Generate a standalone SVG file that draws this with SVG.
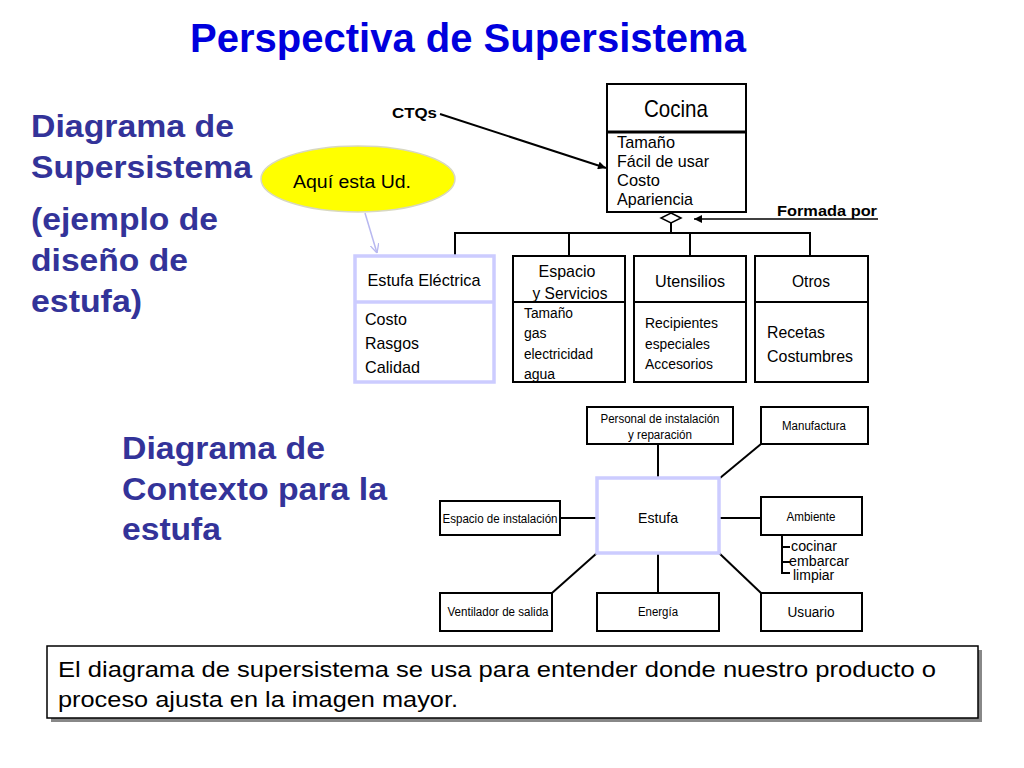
<svg xmlns="http://www.w3.org/2000/svg" width="1024" height="768" viewBox="0 0 1024 768">
<style>
.h{font-family:"Liberation Sans",Arial,sans-serif;font-weight:bold;fill:#333399;font-size:32px}
.n{font-family:"Liberation Sans",Arial,sans-serif;fill:#000}
.b{font-family:"Liberation Sans",Arial,sans-serif;font-weight:bold;fill:#000}
.box{fill:#fff;stroke:#000;stroke-width:2}
.lbox{fill:#fff;stroke:#ccccff;stroke-width:3.5}
.ln{stroke:#000;stroke-width:2;fill:none}
.c{text-anchor:middle}
</style>
<defs>
<marker id="ah" viewBox="0 0 10 10" refX="10" refY="5" markerWidth="9" markerHeight="8" orient="auto" markerUnits="userSpaceOnUse">
<path d="M0,0 L10,5 L0,10 z" fill="#000"/>
</marker>
<marker id="ahl" viewBox="0 0 10 10" refX="10" refY="5" markerWidth="9" markerHeight="9" orient="auto" markerUnits="userSpaceOnUse">
<path d="M0,0 L10,5 L0,10" fill="none" stroke="#b8b8f0" stroke-width="1.5"/>
</marker>
</defs>
<rect width="1024" height="768" fill="#fff"/>

<text x="468" y="52" text-anchor="middle" font-family="Liberation Sans,Arial,sans-serif" font-weight="bold" font-size="40" fill="#0000dd">Perspectiva de Supersistema</text>

<g id="headings">
<text class="h" x="31" y="137" textLength="203" lengthAdjust="spacingAndGlyphs">Diagrama de</text>
<text class="h" x="31" y="178" textLength="221" lengthAdjust="spacingAndGlyphs">Supersistema</text>
<text class="h" x="31" y="230" textLength="187" lengthAdjust="spacingAndGlyphs">(ejemplo de</text>
<text class="h" x="31" y="271" textLength="157" lengthAdjust="spacingAndGlyphs">diseño de</text>
<text class="h" x="31" y="312" textLength="111" lengthAdjust="spacingAndGlyphs">estufa)</text>
<text class="h" x="122" y="459" textLength="203" lengthAdjust="spacingAndGlyphs">Diagrama de</text>
<text class="h" x="122" y="500" textLength="265" lengthAdjust="spacingAndGlyphs">Contexto para la</text>
<text class="h" x="122" y="540" textLength="99" lengthAdjust="spacingAndGlyphs">estufa</text>
</g>

<g id="connectors">
<line class="ln" x1="440" y1="114" x2="606" y2="168" stroke-width="1.8" marker-end="url(#ah)"/>
<line x1="878" y1="219" x2="694" y2="219" stroke="#000" stroke-width="1.5" marker-end="url(#ah)"/>
<line x1="365" y1="213" x2="377" y2="253" stroke="#b8b8f0" stroke-width="1.5" marker-end="url(#ahl)"/>
<polyline class="ln" points="671,223 671,233"/>
<polyline class="ln" points="455,256 455,233 810,233 810,256"/>
<line class="ln" x1="569" y1="233" x2="569" y2="256"/>
<line class="ln" x1="690" y1="233" x2="690" y2="256"/>
<line class="ln" x1="658" y1="444" x2="658" y2="478"/>
<line class="ln" x1="761" y1="444" x2="720" y2="478"/>
<line class="ln" x1="560" y1="518" x2="597" y2="518"/>
<line class="ln" x1="719" y1="518" x2="761" y2="518"/>
<line class="ln" x1="552" y1="593" x2="597" y2="553"/>
<line class="ln" x1="658" y1="553" x2="658" y2="593"/>
<line class="ln" x1="719" y1="553" x2="761" y2="593"/>
<polyline class="ln" points="782,535 782,573 790,573" stroke-width="1.5"/>
<line class="ln" x1="782" y1="547" x2="790" y2="547" stroke-width="1.5"/>
<line class="ln" x1="782" y1="562" x2="790" y2="562" stroke-width="1.5"/>
</g>

<g id="ctqs"><text class="b" x="392" y="118" font-size="15" textLength="45" lengthAdjust="spacingAndGlyphs">CTQs</text></g>
<g id="formada"><text class="b" x="777" y="216" font-size="15" textLength="100" lengthAdjust="spacingAndGlyphs">Formada por</text></g>

<g id="cocina">
<rect class="box" x="607" y="84" width="139" height="128"/>
<line x1="607" y1="132" x2="746" y2="132" stroke="#000" stroke-width="3"/>
<text class="n c" x="676" y="117" font-size="24" textLength="64" lengthAdjust="spacingAndGlyphs">Cocina</text>
<text class="n" x="617" y="148" font-size="17" textLength="58" lengthAdjust="spacingAndGlyphs">Tamaño</text>
<text class="n" x="617" y="167" font-size="17" textLength="92" lengthAdjust="spacingAndGlyphs">Fácil de usar</text>
<text class="n" x="617" y="186" font-size="17" textLength="43" lengthAdjust="spacingAndGlyphs">Costo</text>
<text class="n" x="617" y="205" font-size="17" textLength="76" lengthAdjust="spacingAndGlyphs">Apariencia</text>
<path d="M671,213 L681,218 L671,223 L661,218 z" fill="#fff" stroke="#000" stroke-width="1.5"/>
</g>

<g id="aqui">
<ellipse cx="358" cy="179" rx="97" ry="33" fill="#ffff00" stroke="#d8d8c0" stroke-width="1.5"/>
<text class="n" x="293" y="188" font-size="18" textLength="118" lengthAdjust="spacingAndGlyphs">Aquí esta Ud.</text>
</g>

<g id="estufa-electrica">
<rect class="lbox" x="355" y="256" width="139" height="126"/>
<line x1="355" y1="302" x2="494" y2="302" stroke="#ccccff" stroke-width="3.5"/>
<text class="n c" x="424" y="286" font-size="17" textLength="113" lengthAdjust="spacingAndGlyphs">Estufa Eléctrica</text>
<text class="n" x="365" y="325" font-size="17" textLength="42" lengthAdjust="spacingAndGlyphs">Costo</text>
<text class="n" x="365" y="349" font-size="17" textLength="54" lengthAdjust="spacingAndGlyphs">Rasgos</text>
<text class="n" x="365" y="373" font-size="17" textLength="55" lengthAdjust="spacingAndGlyphs">Calidad</text>
</g>

<g id="espacio-servicios">
<rect class="box" x="513" y="256" width="112" height="126"/>
<line class="ln" x1="513" y1="302" x2="625" y2="302"/>
<text class="n c" x="567" y="277" font-size="17" textLength="57" lengthAdjust="spacingAndGlyphs">Espacio</text>
<text class="n c" x="570" y="299" font-size="17" textLength="75" lengthAdjust="spacingAndGlyphs">y Servicios</text>
<text class="n" x="524" y="318" font-size="14" textLength="49" lengthAdjust="spacingAndGlyphs">Tamaño</text>
<text class="n" x="524" y="338" font-size="14">gas</text>
<text class="n" x="524" y="359" font-size="14" textLength="69" lengthAdjust="spacingAndGlyphs">electricidad</text>
<text class="n" x="524" y="379" font-size="14">agua</text>
</g>

<g id="utensilios">
<rect class="box" x="634" y="256" width="112" height="126"/>
<line class="ln" x1="634" y1="302" x2="746" y2="302"/>
<text class="n c" x="690" y="287" font-size="17" textLength="70" lengthAdjust="spacingAndGlyphs">Utensilios</text>
<text class="n" x="645" y="328" font-size="14.5" textLength="73" lengthAdjust="spacingAndGlyphs">Recipientes</text>
<text class="n" x="645" y="349" font-size="14.5" textLength="65" lengthAdjust="spacingAndGlyphs">especiales</text>
<text class="n" x="645" y="369" font-size="14.5" textLength="68" lengthAdjust="spacingAndGlyphs">Accesorios</text>
</g>

<g id="otros">
<rect class="box" x="755" y="256" width="113" height="126"/>
<line class="ln" x1="755" y1="302" x2="868" y2="302"/>
<text class="n c" x="811" y="287" font-size="17" textLength="38" lengthAdjust="spacingAndGlyphs">Otros</text>
<text class="n" x="767" y="338" font-size="17" textLength="58" lengthAdjust="spacingAndGlyphs">Recetas</text>
<text class="n" x="767" y="362" font-size="17" textLength="86" lengthAdjust="spacingAndGlyphs">Costumbres</text>
</g>

<g id="personal">
<rect class="box" x="587" y="407" width="146" height="37"/>
<text class="n c" x="660" y="423" font-size="12.5" textLength="119" lengthAdjust="spacingAndGlyphs">Personal de instalación</text>
<text class="n c" x="660" y="439" font-size="12.5" textLength="64" lengthAdjust="spacingAndGlyphs">y reparación</text>
</g>
<g id="manufactura">
<rect class="box" x="761" y="407" width="107" height="37"/>
<text class="n c" x="814" y="430" font-size="12.5" textLength="64" lengthAdjust="spacingAndGlyphs">Manufactura</text>
</g>
<g id="estufa">
<rect class="lbox" x="597" y="478" width="122" height="75"/>
<text class="n c" x="658" y="523" font-size="15" textLength="40" lengthAdjust="spacingAndGlyphs">Estufa</text>
</g>
<g id="espacio-instalacion">
<rect class="box" x="440" y="501" width="120" height="34"/>
<text class="n c" x="500" y="523" font-size="12.5" textLength="115" lengthAdjust="spacingAndGlyphs">Espacio de instalación</text>
</g>
<g id="ambiente">
<rect class="box" x="761" y="497" width="101" height="38"/>
<text class="n c" x="811" y="521" font-size="12.5" textLength="49" lengthAdjust="spacingAndGlyphs">Ambiente</text>
<text class="n" x="791" y="551" font-size="14" textLength="46" lengthAdjust="spacingAndGlyphs">cocinar</text>
<text class="n" x="789" y="566" font-size="14" textLength="60" lengthAdjust="spacingAndGlyphs">embarcar</text>
<text class="n" x="793" y="580" font-size="14">limpiar</text>
</g>
<g id="ventilador">
<rect class="box" x="440" y="593" width="112" height="38"/>
<text class="n c" x="498" y="616" font-size="12.5" textLength="101" lengthAdjust="spacingAndGlyphs">Ventilador de salida</text>
</g>
<g id="energia">
<rect class="box" x="597" y="593" width="122" height="38"/>
<text class="n c" x="658" y="616" font-size="12.5" textLength="40" lengthAdjust="spacingAndGlyphs">Energía</text>
</g>
<g id="usuario">
<rect class="box" x="761" y="593" width="101" height="38"/>
<text class="n c" x="811" y="617" font-size="14" textLength="47" lengthAdjust="spacingAndGlyphs">Usuario</text>
</g>

<g id="note">
<rect x="51" y="650" width="931" height="72" fill="#888"/>
<rect x="47" y="646" width="931" height="72" fill="#fff" stroke="#000" stroke-width="1.5"/>
<text class="n" x="58" y="677" font-size="22" textLength="878" lengthAdjust="spacingAndGlyphs">El diagrama de supersistema se usa para entender donde nuestro producto o</text>
<text class="n" x="58" y="707" font-size="22" textLength="400" lengthAdjust="spacingAndGlyphs">proceso ajusta en la imagen mayor.</text>
</g>
</svg>
